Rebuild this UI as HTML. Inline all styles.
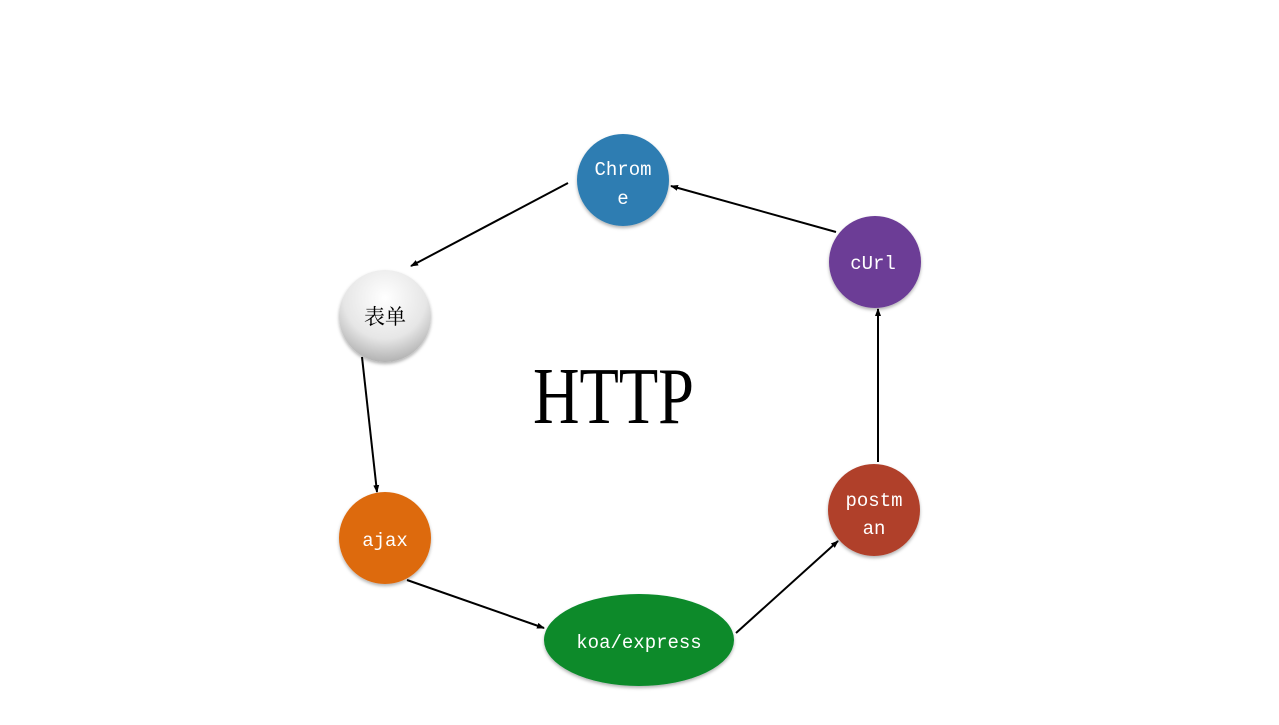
<!DOCTYPE html>
<html><head><meta charset="utf-8"><style>html,body{margin:0;padding:0;background:#fff}</style></head>
<body>
<svg width="1279" height="720" xmlns="http://www.w3.org/2000/svg">
<defs>
<marker id="a" markerWidth="8" markerHeight="8" refX="7" refY="4" orient="auto" markerUnits="userSpaceOnUse"><path d="M0,1 L8,4 L0,7 Z" fill="#000"/></marker>
<radialGradient id="g" cx="0.5" cy="0.3" r="0.75"><stop offset="0" stop-color="#ffffff"/><stop offset="0.6" stop-color="#e6e6e6"/><stop offset="1" stop-color="#a8a8a8"/></radialGradient>
<filter id="s" x="-20%" y="-20%" width="140%" height="140%"><feDropShadow dx="0" dy="2" stdDeviation="1.5" flood-color="#000" flood-opacity="0.3"/></filter>
</defs>
<g stroke="#000" stroke-width="2" fill="none" marker-end="url(#a)">
<line x1="568" y1="183" x2="411" y2="266"/>
<line x1="362" y1="357" x2="377" y2="492"/>
<line x1="407" y1="580" x2="544" y2="628"/>
<line x1="736" y1="633" x2="838" y2="541"/>
<line x1="878" y1="462" x2="878" y2="309"/>
<line x1="836" y1="232" x2="671" y2="186"/>
</g>
<g filter="url(#s)">
<circle cx="623" cy="180" r="46" fill="#2e7db2"/>
<circle cx="875" cy="262" r="46" fill="#6c3d96"/>
<circle cx="874" cy="510" r="46" fill="#b0402c"/>
<ellipse cx="639" cy="640" rx="95" ry="46" fill="#078a2b"/>
<circle cx="385" cy="538" r="46" fill="#dd6b10"/>
<circle cx="385" cy="316" r="46" fill="url(#g)"/>
</g>
<g font-family="'Liberation Mono', monospace" font-size="19" fill="#fff" text-anchor="middle">
<text x="623" y="175">Chrom</text>
<text x="623" y="204">e</text>
<text x="873" y="269">cUrl</text>
<text x="874" y="506">postm</text>
<text x="874" y="534">an</text>
<text x="639" y="648">koa/express</text>
<text x="385" y="546">ajax</text>
</g>
<text x="385" y="324" font-family="'Noto Serif CJK SC','Noto Sans CJK SC',serif" font-size="21" fill="#000" text-anchor="middle">表单</text>
<text x="533" y="423" font-family="'Liberation Serif', serif" font-size="80" fill="#000" textLength="161" lengthAdjust="spacingAndGlyphs">HTTP</text>
</svg>
</body></html>
